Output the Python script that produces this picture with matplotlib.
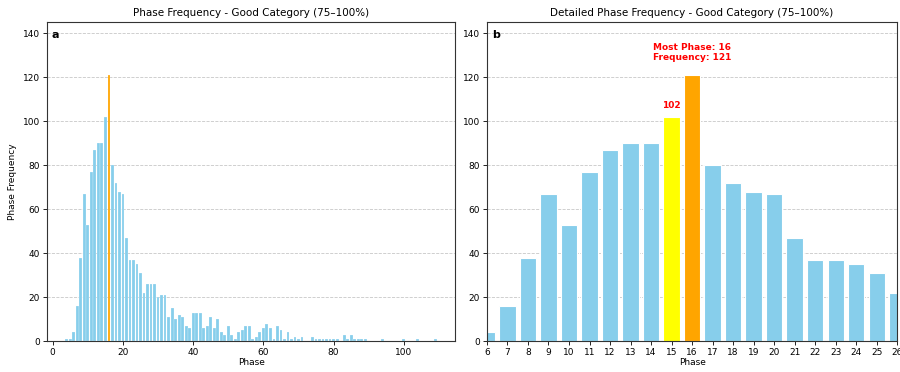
import matplotlib
matplotlib.use("Agg")
import matplotlib.pyplot as plt
import numpy as np

# Phase frequency counts for the Good category (75-100%)
phases = list(range(4, 77)) + [77, 78, 79, 80, 81, 83, 84, 85, 86, 87, 88, 89, 94, 100, 104, 109]
counts = [
    1, 1, 4, 16, 38, 67, 53, 77, 87, 90,          # 4-13
    90, 102, 121, 80, 72, 68, 67, 47, 37, 37,     # 14-23
    35, 31, 22, 26, 26, 26, 20, 21, 21, 11,       # 24-33
    15, 10, 12, 11, 7, 6, 13, 13, 13, 6,          # 34-43
    7, 11, 6, 10, 4, 3, 7, 3, 1, 4,               # 44-53
    5, 7, 7, 1, 2, 4, 6, 8, 6, 1,                 # 54-63
    7, 5, 1, 4, 1, 2, 1, 2, 0, 0,                 # 64-73
    2, 1, 1,                                      # 74-76
    1, 1, 1, 1, 1, 3, 1, 3, 1, 1, 1, 1, 1, 1, 1, 1,
]

detail_lo, detail_hi = 6, 26
top_phase = phases[int(np.argmax(counts))]
top_count = max(counts)
second_phase = 15

sky = "skyblue"

fig = plt.figure(figsize=(9, 3.72), dpi=100)
ax1 = fig.add_axes([0.052, 0.083, 0.454, 0.858])
ax2 = fig.add_axes([0.541, 0.083, 0.456, 0.858])

# Panel a: full range
colors1 = ["orange" if p == top_phase else sky for p in phases]
ax1.bar(phases, counts, width=0.8, color=colors1, edgecolor="white", linewidth=0.15, zorder=2)
ax1.set_ylim(0, top_count * 1.2)
ax1.set_title("Phase Frequency - Good Category (75\u2013100%)", fontsize=7.5, pad=4)
ax1.set_xlabel("Phase", fontsize=6.5, labelpad=1)
ax1.set_ylabel("Phase Frequency", fontsize=6.5, labelpad=4)
ax1.text(0.012, 0.975, "a", transform=ax1.transAxes, fontsize=8, fontweight="bold", va="top", ha="left")

# Panel b: detail around the peak
sel = [(p, c) for p, c in zip(phases, counts) if detail_lo <= p <= detail_hi]
dp = [p for p, _ in sel]
dc = [c for _, c in sel]
colors2 = []
for p in dp:
    if p == top_phase:
        colors2.append("orange")
    elif p == second_phase:
        colors2.append("yellow")
    else:
        colors2.append(sky)
ax2.bar(dp, dc, width=0.8, color=colors2, edgecolor="white", linewidth=0.8, zorder=2)
ax2.set_xlim(detail_lo, detail_hi)
ax2.set_xticks(range(detail_lo, detail_hi + 1))
ax2.set_ylim(0, top_count * 1.2)
ax2.set_title("Detailed Phase Frequency - Good Category (75\u2013100%)", fontsize=7.5, pad=4)
ax2.set_xlabel("Phase", fontsize=6.5, labelpad=1)
ax2.text(0.012, 0.975, "b", transform=ax2.transAxes, fontsize=8, fontweight="bold", va="top", ha="left")

second_count = dc[dp.index(second_phase)]
ax2.text(second_phase, second_count + 3, f"{second_count}", color="red", fontsize=6.5,
         fontweight="bold", ha="center", va="bottom")
ax2.text(top_phase, top_count + 6, f"Most Phase: {top_phase}\nFrequency: {top_count}",
         color="red", fontsize=6.5, fontweight="bold", ha="center", va="bottom", linespacing=1.2)

for ax in (ax1, ax2):
    ax.grid(axis="y", linestyle="--", color="#b0b0b0", alpha=0.7, linewidth=0.6, zorder=0)
    ax.tick_params(labelsize=6.5, length=3, width=0.6, pad=2)
    for s in ax.spines.values():
        s.set_linewidth(0.8)
        s.set_color("#333333")

fig.savefig("out.png", dpi=100)
